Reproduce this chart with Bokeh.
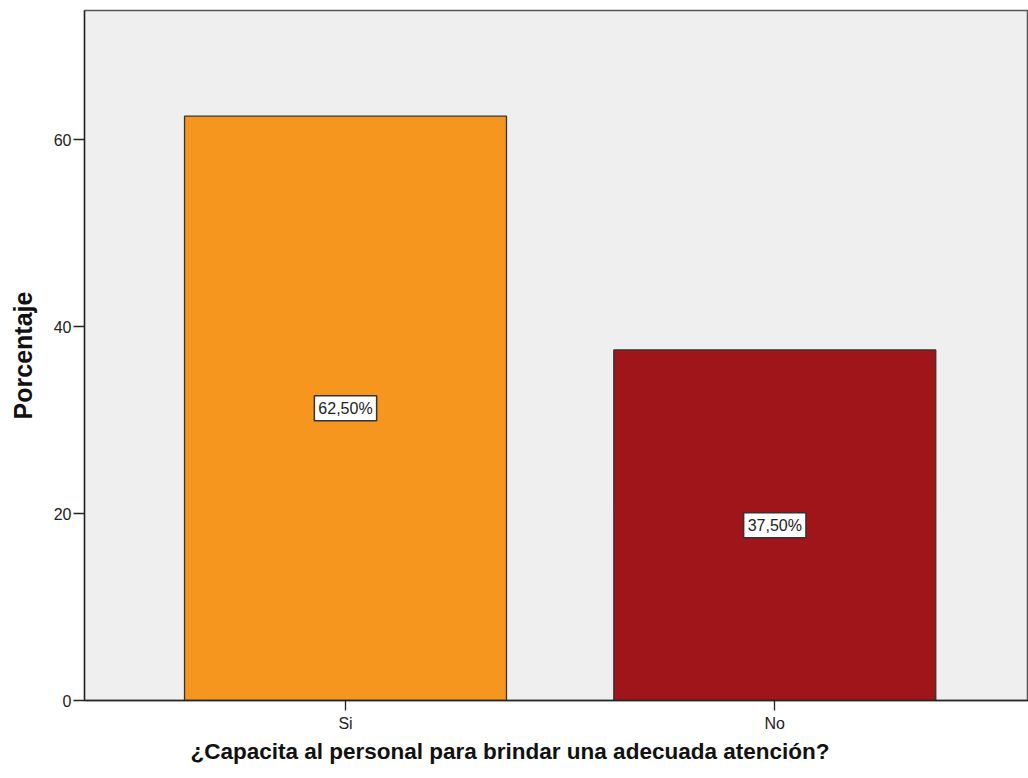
from bokeh.plotting import figure
from bokeh.models import ColumnDataSource, Label, FixedTicker, Range1d, Title
from bokeh.embed import file_html
from bokeh.resources import INLINE

# Survey answers and their shares
categories = ["Si", "No"]
percentages = [62.5, 37.5]
value_labels = ["62,50%", "37,50%"]
bar_colors = ["#f7961e", "#a0151a"]
y_ticks = [0, 20, 40, 60]

positions = list(range(1, len(categories) + 1))

source = ColumnDataSource(dict(
    x=positions,
    top=percentages,
    color=bar_colors,
))

p = figure(
    width=1028, height=778,
    x_range=Range1d(0.392, 2.591),
    y_range=Range1d(0, 73.8),
    output_backend="svg", toolbar_location=None,
    min_border_left=84, min_border_right=0,
    min_border_top=10, min_border_bottom=78,
    background_fill_color="#efefef",
    border_fill_color="white",
)

p.vbar(x="x", top="top", bottom=0, width=0.75, source=source,
       fill_color="color", line_color="#333333", line_width=1.3)

# Boxed value labels at the middle of each bar
for xpos, pct, txt in zip(positions, percentages, value_labels):
    p.add_layout(Label(
        x=xpos, y=pct / 2, text=txt,
        text_align="center", text_baseline="middle",
        text_font="Liberation Sans", text_font_size="16px",
        text_color="#222222",
        background_fill_color="white", border_line_color="#333333",
        border_line_width=1.5, padding=4,
    ))

p.grid.visible = False
p.outline_line_color = "#555555"
p.outline_line_width = 1.5

p.yaxis.ticker = FixedTicker(ticks=y_ticks)
p.yaxis.minor_tick_line_color = None
p.yaxis.major_tick_out = 11
p.yaxis.major_tick_in = 0
p.yaxis.axis_line_color = "#222222"
p.yaxis.axis_line_width = 1.3
p.yaxis.major_tick_line_color = "#222222"
p.yaxis.major_tick_line_width = 1.3
p.yaxis.major_label_text_font = "Liberation Sans"
p.yaxis.major_label_text_font_size = "16px"
p.yaxis.major_label_text_color = "#222222"
p.yaxis.major_label_standoff = 2
p.yaxis.axis_label = "Porcentaje"
p.yaxis.axis_label_text_font = "Liberation Sans"
p.yaxis.axis_label_text_font_style = "bold"
p.yaxis.axis_label_text_font_size = "25px"
p.yaxis.axis_label_text_color = "#111111"
p.yaxis.axis_label_standoff = 14

p.xaxis.ticker = FixedTicker(ticks=positions)
p.xaxis.major_label_overrides = {x: c for x, c in zip(positions, categories)}
p.xaxis.minor_tick_line_color = None
p.xaxis.major_tick_out = 10
p.xaxis.major_tick_in = 0
p.xaxis.axis_line_color = "#222222"
p.xaxis.axis_line_width = 1.3
p.xaxis.major_tick_line_color = "#222222"
p.xaxis.major_tick_line_width = 1.3
p.xaxis.major_label_text_font = "Liberation Sans"
p.xaxis.major_label_text_font_size = "16px"
p.xaxis.major_label_text_color = "#222222"
p.xaxis.major_label_standoff = 4

# Category axis title below the tick labels
x_title = Title(
    text="¿Capacita al personal para brindar una adecuada atención?",
    align="left", offset=106, standoff=4,
    text_font="Liberation Sans", text_font_style="bold",
    text_font_size="22.5px", text_color="#111111",
)
p.add_layout(x_title, "below")

open("out.html", "w").write(file_html(p, INLINE))
